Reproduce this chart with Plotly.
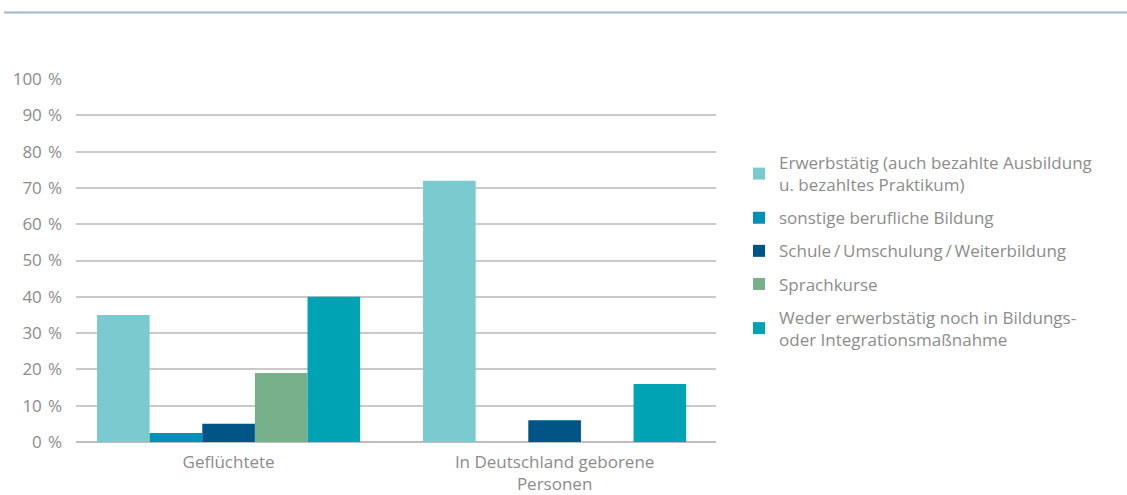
import plotly.graph_objects as go

categories = ["Geflüchtete", "In Deutschland geborene<br>Personen"]

series_names = [
    "Erwerbstätig (auch bezahlte Ausbildung<br>u. bezahltes Praktikum)",
    "sonstige berufliche Bildung",
    "Schule\u2009/\u2009Umschulung\u2009/\u2009Weiterbildung",
    "Sprachkurse",
    "Weder erwerbstätig noch in Bildungs-<br>oder Integrationsmaßnahme",
]

erwerbstaetig = [35, 72]
berufliche_bildung = [2.5, 0]
schule_weiterbildung = [5, 6]
sprachkurse = [19, 0]
weder_noch = [40, 16]

series_values = [erwerbstaetig, berufliche_bildung, schule_weiterbildung,
                 sprachkurse, weder_noch]
colors = ["#79cbcf", "#0090b8", "#005587", "#77b08a", "#00a3b3"]

y_ticks = list(range(0, 101, 10))
y_tick_labels = [f"{v} \u200a%" for v in y_ticks]

W, H = 1127, 495
ML, MR, MT, MB = 76, 411, 79, 53
TEXT = "#8c8c8c"
FONT = "Open Sans, DejaVu Sans, sans-serif"
FS = 17

fig = go.Figure()
for i, (name, vals, col) in enumerate(zip(series_names, series_values, colors)):
    fig.add_trace(go.Bar(
        x=categories, y=vals, name=name,
        marker=dict(color=col, line=dict(width=0)),
        legendgroup=f"g{i}",
    ))

plot_h = H - MT - MB
plot_w = W - ML - MR

fig.update_layout(
    width=W, height=H,
    margin=dict(l=ML, r=MR, t=MT, b=MB, pad=0, autoexpand=False),
    paper_bgcolor="white", plot_bgcolor="white",
    barmode="group", bargap=0.193, bargroupgap=0,
    font=dict(family=FONT, size=FS, color=TEXT),
    showlegend=True,
    legend=dict(
        x=(739 - ML) / plot_w, xanchor="left",
        y=(H - MB - 251) / plot_h, yanchor="middle",
        traceorder="grouped", tracegroupgap=8,
        font=dict(family=FONT, size=FS, color=TEXT),
        bgcolor="rgba(0,0,0,0)",
    ),
    xaxis=dict(
        range=[-0.468, 1.495], automargin=False,
        showgrid=False, showline=False, ticks="",
        ticklabelstandoff=8,
        tickfont=dict(family=FONT, size=FS, color=TEXT),
    ),
    yaxis=dict(
        range=[0, 100], tickmode="array", automargin=False,
        tickvals=y_ticks, ticktext=y_tick_labels,
        showgrid=True, gridcolor="#c9c9c9", gridwidth=1.5,
        zeroline=True, zerolinecolor="#bdbdbd", zerolinewidth=1.5,
        showline=False, ticks="", ticklabelstandoff=13,
        tickfont=dict(family=FONT, size=FS, color=TEXT),
    ),
)

# thin rule across the top of the page
fig.add_shape(
    type="line", xref="paper", yref="paper",
    x0=(4 - ML) / plot_w, x1=(W - ML) / plot_w,
    y0=1 + (MT - 12.5) / plot_h, y1=1 + (MT - 12.5) / plot_h,
    line=dict(color="#a3b6cf", width=2),
)

fig.write_html("out.html")
